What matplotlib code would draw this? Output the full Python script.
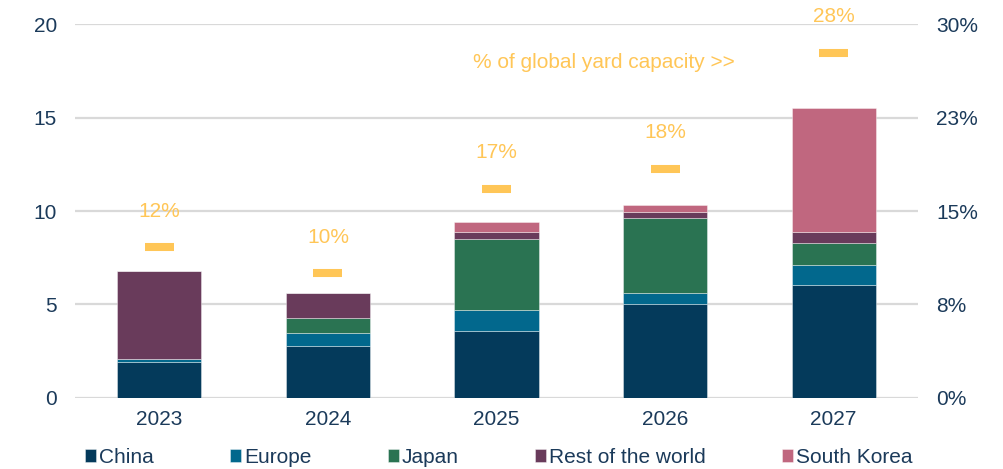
import numpy as np
import matplotlib
matplotlib.use("Agg")
import matplotlib.pyplot as plt
from matplotlib.ticker import FuncFormatter

plt.rcParams['font.family'] = ['Liberation Sans', 'DejaVu Sans']

years = ["2023", "2024", "2025", "2026", "2027"]
regions = ["China", "Europe", "Japan", "Rest of the world", "South Korea"]
china = [1.9, 2.8, 3.6, 5.0, 6.05]
europe = [0.2, 0.7, 1.1, 0.6, 1.05]
japan = [0.0, 0.8, 3.8, 4.0, 1.2]
rest_of_world = [4.7, 1.3, 0.4, 0.37, 0.6]
south_korea = [0.0, 0.0, 0.5, 0.36, 6.6]
share_of_yard_capacity = [0.121, 0.100, 0.168, 0.184, 0.277]

left_ticks = [0, 5, 10, 15, 20]
right_ticks = [0.0, 0.075, 0.15, 0.225, 0.30]

colors = ["#043a5b", "#02688d", "#2a7352", "#693b5b", "#c0677f"]
text_color = "#1b3a5a"
accent = "#ffc657"
grid_color = "#d9d9d9"

fig = plt.figure(figsize=(10.04, 4.69), dpi=100)
ax = fig.add_axes([0.0747, 0.1514, 0.8396, 0.7974])

x = np.arange(len(years))
series = [china, europe, japan, rest_of_world, south_korea]
bottom = np.zeros(len(years))
for name, vals, col in zip(regions, series, colors):
    ax.bar(x, vals, width=0.5, bottom=bottom, color=col, label=name,
           edgecolor=(1, 1, 1, 0.45), linewidth=0.6, zorder=3)
    bottom += np.array(vals)

ax.set_xlim(-0.5, len(years) - 0.5)
ax.set_ylim(0, 20)
ax.set_yticks(left_ticks)
ax.set_xticks(x)
ax.set_xticklabels(years)
ax.yaxis.grid(True, color=grid_color, linewidth=1.6, zorder=0)
ax.set_axisbelow(True)
for s in ax.spines.values():
    s.set_visible(False)
ax.tick_params(axis='y', length=0, pad=13, labelsize=15, labelcolor=text_color)
ax.tick_params(axis='x', length=0, pad=9, labelsize=15, labelcolor=text_color)

ax2 = ax.twinx()
ax2.set_ylim(0, 0.30)
ax2.set_yticks(right_ticks)
ax2.yaxis.set_major_formatter(
    FuncFormatter(lambda v, _: f"{int(np.floor(v * 100 + 0.5))}%"))
for s in ax2.spines.values():
    s.set_visible(False)
ax2.tick_params(axis='y', length=0, pad=13, labelsize=15, labelcolor=text_color)

ax2.hlines(share_of_yard_capacity, x - 0.086, x + 0.086, colors=accent,
           linewidth=5.8, capstyle='butt', zorder=4)
for xi, s in zip(x, share_of_yard_capacity):
    ax2.annotate(f"{s * 100:.0f}%", (xi, s), xytext=(0, 26),
                 textcoords='offset points', ha='center', va='center',
                 fontsize=15, color=accent)

ax.text(0.472, 0.896, "% of global yard capacity >>", transform=ax.transAxes,
        ha='left', va='center', fontsize=15, color=accent)

leg = fig.legend(loc='center', bbox_to_anchor=(0.497, 0.024), ncol=5,
                 frameon=False, fontsize=15, handlelength=0.53,
                 handleheight=0.58, handletextpad=0.15, columnspacing=3.65,
                 borderpad=0, borderaxespad=0)
for t in leg.get_texts():
    t.set_color(text_color)

fig.savefig("out.png", dpi=100)
